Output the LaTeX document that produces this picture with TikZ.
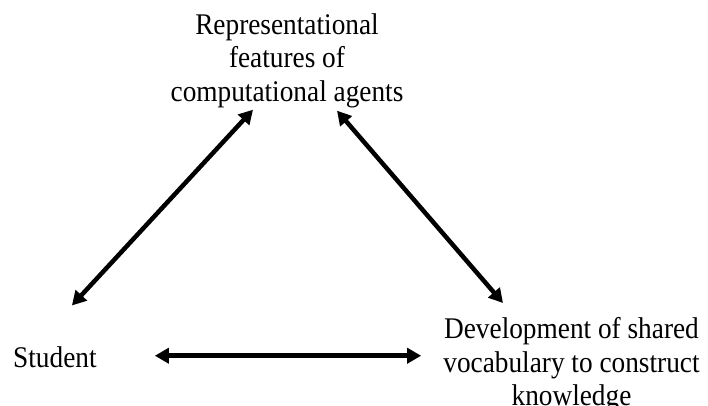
\documentclass[tikz,border=0pt]{standalone}
\usepackage{fontspec}
\setmainfont{Liberation Serif}[FakeStretch=0.91]
\usetikzlibrary{arrows.meta, calc}
\tikzset{
    label/.style={inner sep=0pt, align=center, font=\fontsize{30}{33.5}\selectfont},
    twoway/.style={{Triangle[length=14pt,width=15pt]}-{Triangle[length=14pt,width=15pt]}, line width=4.5pt, black}
}
\begin{document}
\begin{tikzpicture}[x=1pt, y=-1pt]
    \useasboundingbox (0,0) rectangle (708,406);
    \node [label, anchor=north] (rep) at (287,13) {Representational\\features of\\computational agents};
    \node [label, anchor=base west] (stu) at (13,367) {Student};
    \node [label, anchor=north] (dev) at (571.5,317.5) {Development of shared\\vocabulary to construct\\knowledge};

    \coordinate (stu-end) at ($(stu.east)+(58,-1)$);
    \coordinate (dev-end) at ($(dev.west)+(-22,0)$);

    \draw [twoway] ($(stu.north)+(17,-40.5)$) -- ($(rep.south)+(-34,2)$);
    \draw [twoway] ($(rep.south)+(50,3)$) -- ($(dev.north)+(-68.5,-14.5)$);
    \draw [twoway] (stu-end) -- (dev-end |- stu-end);
\end{tikzpicture}
\end{document}
